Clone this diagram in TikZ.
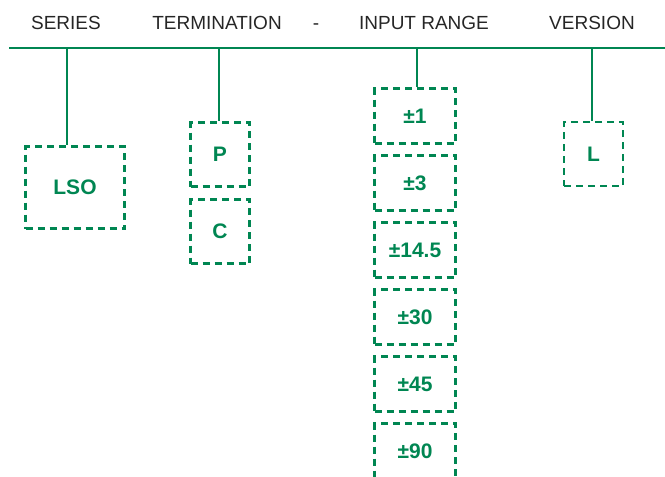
\documentclass[tikz,border=0pt]{standalone}
\usepackage{fontspec}
\setmainfont{Liberation Sans}
\definecolor{codeGreen}{RGB}{0,134,82}

\begin{document}
\begin{tikzpicture}[x=1pt,y=-1pt,
  head/.style={anchor=base,text=black!85,font=\fontsize{19}{19}\selectfont},
  optbox/.style={rectangle,draw=codeGreen,line width=2.6pt,dash pattern=on 7pt off 5pt,
    inner sep=0pt,text=codeGreen,font=\fontsize{21}{21}\selectfont\bfseries},
  stem/.style={draw=codeGreen,line width=2.2pt}]
\clip (0,0) rectangle (665,477);

% Headings
\node[head] (series) at (66,29) {SERIES};
\node[head] (term) at (217,29) {TERMINATION};
\node[head] (dash) at (316,29) {-};
\node[head] (range) at (424,29) {INPUT RANGE};
\node[head] (version) at (592,29) {VERSION};

% Bar
\coordinate (barL) at (9,48);
\coordinate (barR) at (665,48);
\draw[stem] (barL) -- (barR);

% Series
\node[optbox,minimum width=99pt,minimum height=82pt] (lso) at (75,187.5) {LSO};
\coordinate (sTop) at (67,48);
\draw[stem] (sTop) -- (sTop |- lso.north);

% Termination
\node[optbox,minimum width=59pt,minimum height=64pt] (p) at (220,154.5) {P};
\node[optbox,minimum width=59pt,minimum height=64pt] (c) at (220,231.5) {C};
\coordinate (tTop) at (219,48);
\draw[stem] (tTop) -- (tTop |- p.north);

% Input range
\foreach \val [count=\i from 0] in {1,3,14.5,30,45,90}
  \node[optbox,minimum width=81pt,minimum height=55pt] (r\i) at (415,116+67*\i) {±\val};
\coordinate (rTop) at (417,48);
\draw[stem] (rTop) -- (rTop |- r0.north);

% Version
\node[optbox,minimum width=59pt,minimum height=64pt] (l) at (593.5,154) {L};
\coordinate (vTop) at (592,48);
\draw[stem] (vTop) -- (vTop |- l.north);
\end{tikzpicture}
\end{document}
